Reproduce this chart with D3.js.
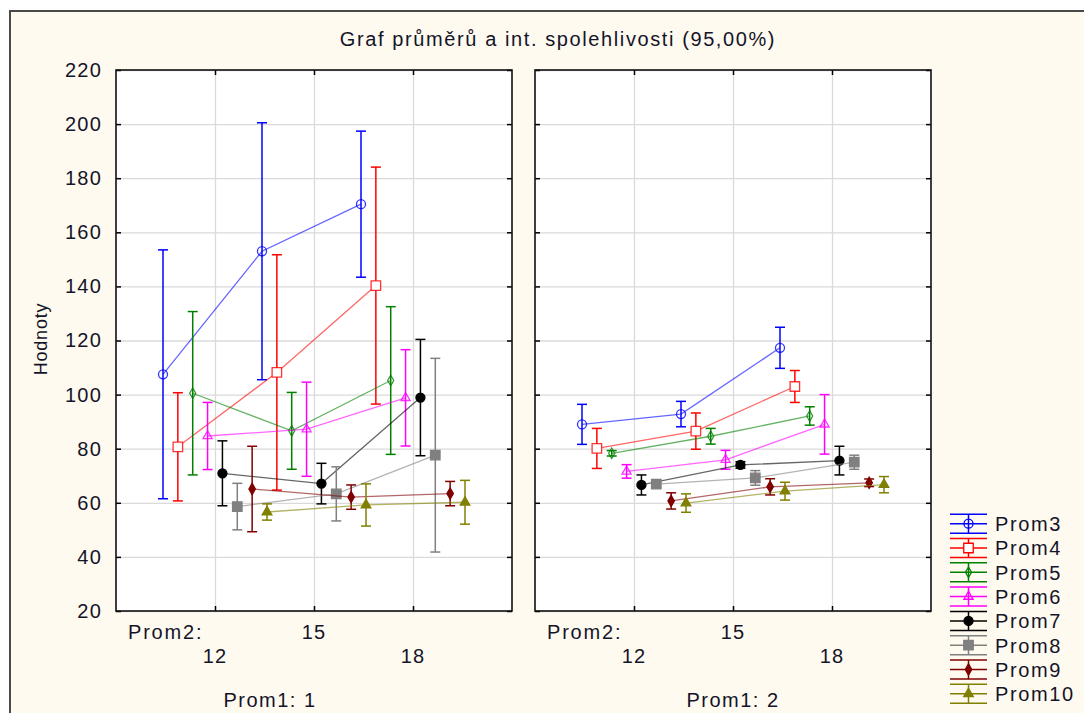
<!DOCTYPE html>
<html>
<head>
<meta charset="utf-8">
<script src="https://cdn.jsdelivr.net/npm/d3@7"></script>
<style>
  body { margin: 0; background: #fff; }
  text { font-family: "Liberation Sans", Arial, sans-serif; fill: #141428; }
</style>
</head>
<body>
<div id="chart"></div>
<script>
// series and factor levels
const series = ["Prom3", "Prom4", "Prom5", "Prom6", "Prom7", "Prom8", "Prom9", "Prom10"];
const prom2Levels = [12, 15, 18];
const prom1Levels = [1, 2];
const yTicks = [20, 40, 60, 80, 100, 120, 140, 160, 180, 200, 220];

// means per series (rows) at Prom2 = 12, 15, 18 (columns)
const meansProm1a = [
  [107.5, 153.0, 170.4],
  [80.7, 108.2, 140.3],
  [100.5, 86.6, 105.2],
  [84.7, 87.2, 98.8],
  [70.9, 67.1, 98.9],
  [58.6, 63.3, 77.6],
  [65.1, 62.1, 63.4],
  [56.6, 59.2, 60.2],
];
// half-width of the 95% confidence interval
const ciProm1a = [
  [46.0, 47.5, 27.0],
  [20.0, 43.5, 43.8],
  [30.2, 14.2, 27.3],
  [12.4, 17.4, 17.8],
  [12.0, 7.5, 21.5],
  [8.6, 10.0, 35.8],
  [15.8, 4.5, 4.5],
  [3.0, 7.8, 8.1],
];
const meansProm1b = [
  [89.0, 92.8, 117.3],
  [80.1, 86.5, 103.0],
  [78.3, 84.6, 92.1],
  [71.6, 75.9, 89.0],
  [66.6, 74.0, 75.6],
  [66.9, 69.2, 75.0],
  [60.7, 65.9, 67.4],
  [59.9, 64.3, 66.7],
];
const ciProm1b = [
  [7.4, 4.7, 7.6],
  [7.4, 6.7, 5.9],
  [1.0, 2.9, 3.4],
  [2.5, 3.5, 11.0],
  [3.7, 1.2, 5.3],
  [0.9, 2.7, 2.6],
  [3.0, 3.0, 1.4],
  [3.4, 3.3, 3.0],
];

const colors = ["#0000ff", "#ff0000", "#008000", "#ff00ff", "#000000", "#808080", "#800000", "#808000"];
const shapes = [d3.symbolCircle, d3.symbolSquare, d3.symbolDiamond, d3.symbolTriangle,
                d3.symbolCircle, d3.symbolSquare, d3.symbolDiamond, d3.symbolTriangle];
const sizes = [64, 90, 32, 36, 64, 90, 36, 40];
const filled = [false, false, false, false, true, true, true, true];

const width = 1084, height = 713;
const plotTop = 70, plotBottom = 611, panelW = 396;
const panelX = [116, 535];

const svg = d3.select("#chart").append("svg")
  .attr("width", width).attr("height", height);

// outer frame
svg.append("rect").attr("x", 10).attr("y", 11)
  .attr("width", width + 20).attr("height", height + 20)
  .attr("fill", "#fffaf0").attr("stroke", "#4a4a4a").attr("stroke-width", 2);

svg.append("text")
  .attr("x", 558).attr("y", 46)
  .attr("text-anchor", "middle")
  .style("font-size", "20px").style("letter-spacing", "1.6px")
  .text("Graf průměrů a int. spolehlivosti (95,00%)");

const yScale = d3.scaleLinear().domain([20, 220]).range([plotBottom, plotTop]);
const dodge = d3.scalePoint().domain(series).range([-52, 52]);

const panels = [
  { level: prom1Levels[0], means: meansProm1a, ci: ciProm1a },
  { level: prom1Levels[1], means: meansProm1b, ci: ciProm1b },
];

panels.forEach((p, pi) => {
  const x0 = panelX[pi];
  const xScale = d3.scaleLinear().domain([9, 21]).range([x0, x0 + panelW]);
  const g = svg.append("g");

  g.append("rect").attr("x", x0).attr("y", plotTop)
    .attr("width", panelW).attr("height", plotBottom - plotTop).attr("fill", "#fff");

  // grid
  g.append("g").attr("transform", `translate(${x0},0)`)
    .call(d3.axisLeft(yScale).tickValues(yTicks).tickSize(-panelW).tickFormat(""))
    .call((a) => a.select(".domain").remove())
    .selectAll("line").attr("stroke", "#dadada").attr("stroke-width", 1.3);
  g.append("g").attr("transform", `translate(0,${plotBottom})`)
    .call(d3.axisBottom(xScale).tickValues(prom2Levels).tickSize(-(plotBottom - plotTop)).tickFormat(""))
    .call((a) => a.select(".domain").remove())
    .selectAll("line").attr("stroke", "#dadada").attr("stroke-width", 1.3);

  // inner ticks on all four sides
  const tickAxes = [
    [d3.axisRight(yScale).tickValues(yTicks), `translate(${x0},0)`],
    [d3.axisLeft(yScale).tickValues(yTicks), `translate(${x0 + panelW},0)`],
    [d3.axisTop(xScale).tickValues(prom2Levels), `translate(0,${plotBottom})`],
    [d3.axisBottom(xScale).tickValues(prom2Levels), `translate(0,${plotTop})`],
  ];
  tickAxes.forEach(([ax, tr]) => {
    g.append("g").attr("transform", tr)
      .call(ax.tickSize(5).tickSizeOuter(0).tickFormat(""))
      .call((a) => a.select(".domain").remove())
      .selectAll("line").attr("stroke", "#000").attr("stroke-width", 1.5);
  });

  g.append("rect").attr("x", x0).attr("y", plotTop)
    .attr("width", panelW).attr("height", plotBottom - plotTop)
    .attr("fill", "none").attr("stroke", "#111").attr("stroke-width", 1.6);

  // y labels only on first panel
  if (pi === 0) {
    g.append("g").attr("transform", `translate(${x0},0)`)
      .call(d3.axisLeft(yScale).tickValues(yTicks).tickSize(0).tickPadding(14))
      .call((a) => a.select(".domain").remove())
      .selectAll("text")
      .style("font-size", "20px").style("font-family", "Liberation Sans, Arial, sans-serif")
      .style("letter-spacing", "1.2px").attr("fill", "#141428");
  }

  // x labels (staggered)
  g.append("text").attr("x", x0 + 12).attr("y", 639)
    .style("font-size", "20px").style("letter-spacing", "1.8px").text("Prom2:");
  prom2Levels.forEach((lv, li) => {
    g.append("text").attr("x", xScale(lv)).attr("y", li % 2 === 0 ? 663 : 639)
      .attr("text-anchor", "middle")
      .style("font-size", "20px").style("letter-spacing", "1.2px").text(lv);
  });
  g.append("text").attr("x", pi === 0 ? 270 : 733).attr("y", 707)
    .attr("text-anchor", "middle")
    .style("font-size", "20px").style("letter-spacing", "1.5px")
    .text("Prom1: " + p.level);

  // data
  const line = d3.line().x((d) => d.x).y((d) => d.y);
  series.forEach((s, si) => {
    const pts = prom2Levels.map((lv, li) => ({
      x: xScale(lv) + dodge(s),
      y: yScale(p.means[si][li]),
      lo: yScale(p.means[si][li] - p.ci[si][li]),
      hi: yScale(p.means[si][li] + p.ci[si][li]),
    }));
    const sg = g.append("g");
    sg.append("path").datum(pts).attr("d", line)
      .attr("fill", "none").attr("stroke", colors[si])
      .attr("stroke-width", 1.3).attr("stroke-opacity", 0.6);
    const eb = sg.selectAll("g.eb").data(pts).enter().append("g");
    eb.append("line").attr("x1", (d) => d.x).attr("x2", (d) => d.x)
      .attr("y1", (d) => d.lo).attr("y2", (d) => d.hi);
    eb.append("line").attr("x1", (d) => d.x - 5).attr("x2", (d) => d.x + 5)
      .attr("y1", (d) => d.lo).attr("y2", (d) => d.lo);
    eb.append("line").attr("x1", (d) => d.x - 5).attr("x2", (d) => d.x + 5)
      .attr("y1", (d) => d.hi).attr("y2", (d) => d.hi);
    eb.selectAll("line").attr("stroke", colors[si]).attr("stroke-width", 1.5);
    sg.selectAll("path.m").data(pts).enter().append("path")
      .attr("class", "m")
      .attr("transform", (d) => `translate(${d.x},${d.y})`)
      .attr("d", d3.symbol().type(shapes[si]).size(sizes[si]))
      .attr("fill", filled[si] ? colors[si] : (si === 1 ? "#fff" : "none"))
      .attr("stroke", colors[si]).attr("stroke-width", 1.3)
      .attr("stroke-opacity", filled[si] ? 1 : 0.8);
  });
});

// y axis title
svg.append("text")
  .attr("transform", "translate(47,339) rotate(-90)")
  .attr("text-anchor", "middle")
  .style("font-size", "18px").style("letter-spacing", "0.8px")
  .text("Hodnoty");

// legend
const legend = svg.append("g");
const lg = legend.selectAll("g").data(series).enter().append("g")
  .attr("transform", (d, i) => `translate(968.5,${523.7 + i * 24.3})`);
lg.each(function (d, i) {
  const e = d3.select(this);
  [-9.5, 0, 9.5].forEach((dy) => {
    e.append("line").attr("x1", -18.5).attr("x2", 18.5).attr("y1", dy).attr("y2", dy)
      .attr("stroke", colors[i]).attr("stroke-width", 1.5);
  });
  e.append("line").attr("x1", 0).attr("x2", 0).attr("y1", -9.5).attr("y2", 9.5)
    .attr("stroke", colors[i]).attr("stroke-width", 1.5);
  e.append("path")
    .attr("d", d3.symbol().type(shapes[i]).size(sizes[i]))
    .attr("fill", filled[i] ? colors[i] : (i === 1 ? "#fff" : "none"))
    .attr("stroke", colors[i]).attr("stroke-width", 1.3);
  e.append("text").attr("x", 26.5).attr("y", 7.3)
    .style("font-size", "20px").style("letter-spacing", "1.6px").text(d);
});
</script>
</body>
</html>
